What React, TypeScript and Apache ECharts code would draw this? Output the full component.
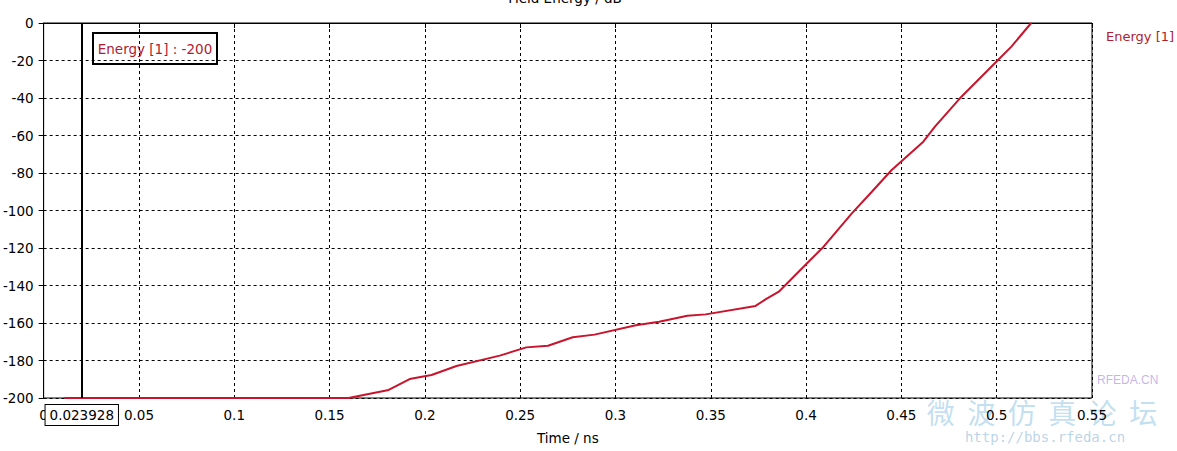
import React, { useEffect, useRef } from "react";
import * as echarts from "echarts";

const times = [0.011, 0.16, 0.181, 0.192, 0.2035, 0.2166, 0.2393, 0.2532, 0.2646, 0.2776, 0.289, 0.3107, 0.3229, 0.3377, 0.3473, 0.3735, 0.3787, 0.3857, 0.3996, 0.4092, 0.424, 0.4345, 0.4449, 0.4615, 0.4676, 0.4815, 0.5007, 0.5077, 0.5181];
const energy = [-200, -200, -195.7, -189.9, -187.7, -182.9, -177.4, -173.0, -172.1, -167.6, -166.2, -161.2, -159.3, -156.1, -155.4, -150.9, -147.4, -143.3, -129.1, -119.3, -101.5, -90, -78.4, -63.3, -55.3, -39.3, -19.7, -12.6, 0];
const seriesName = "Energy [1]";
const cursorTime = 0.023928;
const cursorValue = -200;
const chartTitle = "Field Energy / dB";
const xTitle = "Time / ns";

const FONT = "DejaVu Sans";

export default function App() {
  const ref = useRef<HTMLDivElement>(null);
  useEffect(() => {
    if (!ref.current) return;
    const chart = echarts.init(ref.current, null, { renderer: "svg" });
    const data = times.map((t, i) => [t, energy[i]]);
    chart.setOption({
      animation: false,
      backgroundColor: "#ffffff",
      textStyle: { fontFamily: FONT },
      grid: {
        left: 38,
        right: 85,
        top: 23,
        bottom: 53,
        show: true,
        borderColor: "#000",
        borderWidth: 1,
        backgroundColor: "transparent",
      },
      legend: {
        data: [seriesName],
        left: 1106,
        top: 30,
        padding: 0,
        icon: "rect",
        itemWidth: 0,
        itemHeight: 0,
        textStyle: { color: "#b01c30", fontSize: 13, fontFamily: FONT, padding: [0, 0, 0, -5] },
      },
      xAxis: {
        type: "value",
        min: 0,
        max: 0.55,
        interval: 0.05,
        name: xTitle,
        nameLocation: "middle",
        nameGap: 33,
        nameTextStyle: { color: "#000", fontSize: 13.5, fontFamily: FONT },
        axisLine: { show: true, lineStyle: { color: "#000", width: 1 } },
        axisTick: { show: true, length: 5, lineStyle: { color: "#000" } },
        axisLabel: { color: "#000", fontSize: 13.5, margin: 10, fontFamily: FONT },
        splitLine: { show: true, lineStyle: { color: "#000", type: [3, 3], width: 1 } },
      },
      yAxis: {
        type: "value",
        min: -200,
        max: 0,
        interval: 20,
        axisLine: { show: true, lineStyle: { color: "#000", width: 1 } },
        axisTick: { show: true, length: 5, lineStyle: { color: "#000" } },
        axisLabel: { color: "#000", fontSize: 13.5, margin: 10, fontFamily: FONT },
        splitLine: { show: true, lineStyle: { color: "#000", type: [3, 3], width: 1 } },
      },
      series: [
        {
          name: seriesName,
          type: "line",
          data,
          showSymbol: false,
          symbol: "none",
          color: "#c8142c",
          lineStyle: { color: "#c8142c", width: 2 },
          clip: true,
          markLine: {
            silent: true,
            symbol: ["none", "none"],
            lineStyle: { color: "#000", width: 2, type: "solid" },
            label: {
              show: true,
              position: "start",
              formatter: String(cursorTime),
              color: "#000",
              fontSize: 13.5,
              fontFamily: FONT,
              backgroundColor: "#fff",
              borderColor: "#000",
              borderWidth: 1,
              padding: [3, 4, 3, 4],
              distance: 7,
            },
            data: [{ xAxis: cursorTime }],
          },
        },
      ],
      graphic: [
        {
          type: "text",
          x: 565,
          y: -9,
          style: {
            text: chartTitle,
            fill: "#000",
            font: `13.5px "${FONT}"`,
            textAlign: "center",
            textVerticalAlign: "top",
          },
        },
        {
          type: "group",
          left: 92,
          top: 32,
          children: [
            {
              type: "rect",
              shape: { x: 0, y: 0, width: 124, height: 31 },
              style: { fill: "#fff", stroke: "#000", lineWidth: 2 },
            },
            {
              type: "text",
              x: 62,
              y: 15.5,
              style: {
                text: `${seriesName} : ${cursorValue}`,
                fill: "#b01c30",
                font: `13.5px "${FONT}"`,
                textAlign: "center",
                textVerticalAlign: "middle",
              },
            },
          ],
        },
        {
          type: "text",
          x: 1097,
          y: 374,
          style: {
            text: "RFEDA.CN",
            fill: "rgba(170,150,220,0.7)",
            font: `12px "Liberation Sans"`,
          },
        },
        {
          type: "text",
          x: 1042,
          y: 412,
          style: {
            text: "微  波  仿  真  论  坛",
            fill: "rgba(120,185,225,0.45)",
            font: `28px "Noto Sans CJK SC"`,
            textAlign: "center",
            textVerticalAlign: "middle",
          },
        },
        {
          type: "text",
          x: 1045,
          y: 437,
          style: {
            text: "http://bbs.rfeda.cn",
            fill: "rgba(130,175,210,0.55)",
            font: `14px "DejaVu Sans Mono"`,
            textAlign: "center",
            textVerticalAlign: "middle",
          },
        },
      ],
    });
    return () => chart.dispose();
  }, []);
  return (
    <div
      ref={ref}
      style={{ position: "absolute", left: 0, top: 0, width: 1177, height: 451 }}
    />
  );
}
